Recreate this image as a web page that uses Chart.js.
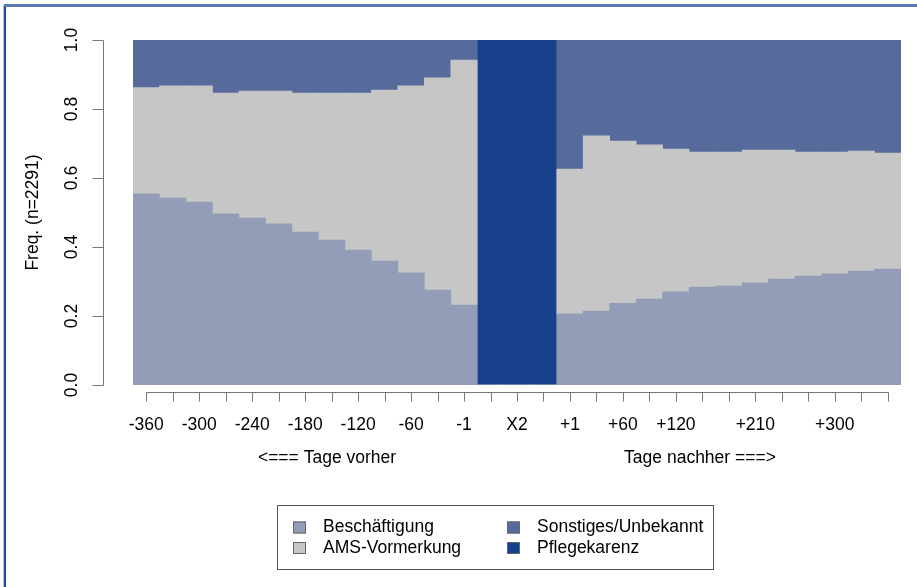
<!DOCTYPE html>
<html>
<head>
<meta charset="utf-8">
<script src="https://cdn.jsdelivr.net/npm/chart.js@4"></script>
<style>
  html, body { margin: 0; padding: 0; background: #fff; }
  #chart { display: block; }
</style>
</head>
<body>
<canvas id="chart" width="917" height="587"></canvas>
<script>
// categories (one bar each, 13 before, 3 for Pflegekarenz, 13 after)
var categories = ['-360','-330','-300','-270','-240','-210','-180','-150','-120','-90','-60','-30','-1',
                  'X1','X2','X3',
                  '+1','+30','+60','+90','+120','+150','+180','+210','+240','+270','+300','+330','+360'];
var tickLabels = ['-360','','-300','','-240','','-180','','-120','','-60','','-1',
                  '','X2','',
                  '+1','','+60','','+120','','','+210','','','+300','',''];
var yTicks = [0, 0.2, 0.4, 0.6, 0.8, 1.0];

var beschaeftigung = [0.554,0.542,0.530,0.496,0.484,0.467,0.443,0.420,0.391,0.359,0.325,0.275,0.232,
                      0,0,0,
                      0.206,0.214,0.237,0.249,0.270,0.284,0.287,0.296,0.307,0.316,0.322,0.330,0.336];
var amsVormerkung  = [0.308,0.325,0.337,0.350,0.368,0.385,0.403,0.426,0.455,0.496,0.542,0.615,0.710,
                      0,0,0,
                      0.420,0.508,0.470,0.447,0.414,0.391,0.388,0.385,0.374,0.359,0.353,0.348,0.336];
var sonstiges      = [0.138,0.133,0.133,0.154,0.148,0.148,0.154,0.154,0.154,0.145,0.133,0.110,0.058,
                      0,0,0,
                      0.374,0.278,0.293,0.304,0.316,0.325,0.325,0.319,0.319,0.325,0.325,0.322,0.328];
var pflegekarenz   = [0,0,0,0,0,0,0,0,0,0,0,0,0,
                      1,1,1,
                      0,0,0,0,0,0,0,0,0,0,0,0,0];

var seriesNames  = ['Beschäftigung','AMS-Vormerkung','Sonstiges/Unbekannt','Pflegekarenz'];
var seriesColors = ['#939db8','#c6c6c6','#566a9b','#17418a'];

var FONT = '17.5px "Liberation Sans", Arial, sans-serif';
var AXIS = '#777';

var decorations = {
  id: 'decorations',
  afterDraw: function(chart) {
    var ctx = chart.ctx;
    var xs = chart.scales.x, ys = chart.scales.y;
    ctx.save();

    // outer frame (left + top)
    ctx.fillStyle = '#b7c3da';
    ctx.fillRect(3, 5, 1, 582);
    ctx.fillStyle = '#1f4b9c';
    ctx.fillRect(4, 5, 2, 582);
    ctx.fillStyle = '#5b7bb3';
    ctx.fillRect(4, 4, 913, 3);

    ctx.strokeStyle = AXIS;
    ctx.lineWidth = 1;
    ctx.fillStyle = '#000';
    ctx.font = FONT;

    // y axis
    var axX = 103.5;
    ctx.beginPath();
    ctx.moveTo(axX, Math.round(ys.getPixelForValue(0)) + 0.5);
    ctx.lineTo(axX, Math.round(ys.getPixelForValue(1)) + 0.5);
    yTicks.forEach(function(v) {
      var py = Math.round(ys.getPixelForValue(v)) + 0.5;
      ctx.moveTo(axX, py);
      ctx.lineTo(axX - 11, py);
    });
    ctx.stroke();
    ctx.textAlign = 'center';
    ctx.textBaseline = 'middle';
    yTicks.forEach(function(v) {
      var py = ys.getPixelForValue(v);
      ctx.save();
      ctx.translate(72, py);
      ctx.rotate(-Math.PI / 2);
      ctx.fillText(v.toFixed(1), 0, 0);
      ctx.restore();
    });
    ctx.save();
    ctx.translate(33, (ys.getPixelForValue(0) + ys.getPixelForValue(1)) / 2);
    ctx.rotate(-Math.PI / 2);
    ctx.fillText('Freq. (n=2291)', 0, 0);
    ctx.restore();

    // x axis
    var axY = 392.5;
    var x0 = Math.round(xs.getPixelForValue(0)) + 0.5;
    var x1 = Math.round(xs.getPixelForValue(categories.length - 1)) + 0.5;
    ctx.beginPath();
    ctx.moveTo(x0, axY);
    ctx.lineTo(x1, axY);
    categories.forEach(function(c, i) {
      var px = Math.round(xs.getPixelForValue(i)) + 0.5;
      ctx.moveTo(px, axY);
      ctx.lineTo(px, axY + 9);
    });
    ctx.stroke();
    ctx.textBaseline = 'alphabetic';
    tickLabels.forEach(function(lbl, i) {
      if (lbl) ctx.fillText(lbl, xs.getPixelForValue(i), 430);
    });
    ctx.fillText('<=== Tage vorher', 327, 463);
    ctx.fillText('Tage nachher ===>', 700, 463);

    // legend
    ctx.strokeStyle = '#555';
    ctx.strokeRect(277.5, 505.5, 436, 64);
    var cols = [293, 507], rows = [527.5, 548];
    ctx.textAlign = 'left';
    ctx.textBaseline = 'middle';
    seriesNames.forEach(function(name, i) {
      var cx = cols[Math.floor(i / 2)], cy = rows[i % 2];
      ctx.fillStyle = seriesColors[i];
      ctx.fillRect(cx, cy - 6, 13, 12);
      ctx.strokeStyle = '#666';
      ctx.strokeRect(cx + 0.5, cy - 5.5, 12, 11);
      ctx.fillStyle = '#000';
      ctx.fillText(name, cx + 30, cy);
    });

    ctx.restore();
  }
};

var seriesData = [beschaeftigung, amsVormerkung, sonstiges, pflegekarenz];

new Chart(document.getElementById('chart').getContext('2d'), {
  type: 'bar',
  data: {
    labels: categories,
    datasets: seriesNames.map(function(name, i) {
      return {
        label: name,
        data: seriesData[i],
        backgroundColor: seriesColors[i],
        borderWidth: 0,
        categoryPercentage: 1.0,
        barPercentage: 1.0
      };
    })
  },
  options: {
    responsive: false,
    animation: false,
    layout: { padding: { left: 133, right: 16, top: 40, bottom: 202 } },
    plugins: { legend: { display: false }, tooltip: { enabled: false } },
    scales: {
      x: { stacked: true, display: false },
      y: { stacked: true, display: false, min: 0, max: 1 }
    }
  },
  plugins: [decorations]
});
</script>
</body>
</html>
